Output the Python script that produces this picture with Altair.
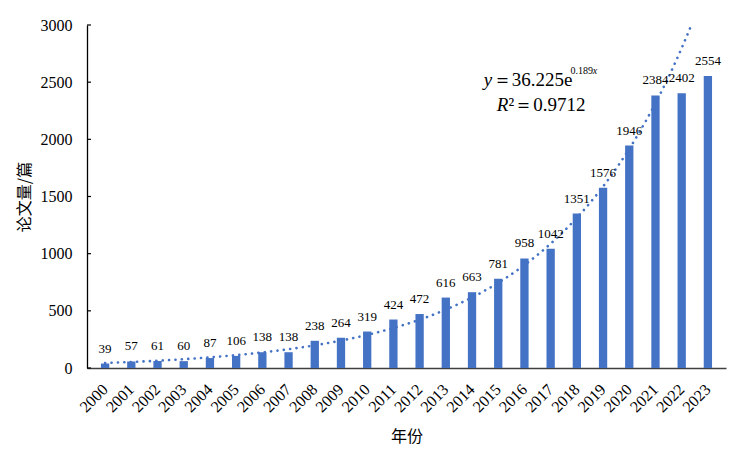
import altair as alt
import pandas as pd

# ---- data ----
years = list(range(2000, 2024))
counts = [39, 57, 61, 60, 87, 106, 138, 138, 238, 264, 319, 424,
          472, 616, 663, 781, 958, 1042, 1351, 1576, 1946, 2384, 2402, 2554]
y_ticks = [0, 500, 1000, 1500, 2000, 2500, 3000]

# trendline parameters as printed on the chart (x = 1 for 2000)
trend_a = 36.225
trend_b = 0.189

# equation annotation pieces (text, year-position, value-position, size, style)
ann_text = ["y", "＝36.225e", "0.189", "x", "R", "²＝0.9712"]
ann_year = [2014.45, 2014.79, 2017.76, 2018.61, 2014.94, 2015.39]
ann_val = [2466, 2466, 2570, 2570, 2248, 2248]
ann_size = [19, 19, 10, 10, 19, 19]
ann_style = ["italic", "normal", "normal", "italic", "italic", "normal"]

BLUE = "#4472C4"
SERIF = "Liberation Serif"
CJK = "Noto Sans CJK SC"

df = pd.DataFrame({"year": years, "count": counts})
ticks_df = pd.DataFrame({"t": y_ticks})
ann_df = pd.DataFrame({"text": ann_text, "year": ann_year, "val": ann_val,
                       "size": ann_size, "style": ann_style})

x_scale = alt.Scale(domain=[1999.5, 2023.5], nice=False, zero=False)
y_scale = alt.Scale(domain=[0, 3000], nice=False)

x_axis = alt.Axis(values=years, format="d", labelAngle=-45, labelFont=SERIF,
                  labelFontSize=16, labelColor="black", ticks=False,
                  labelOverlap=False, labelBound=False, labelPadding=13,
                  labelOffset=-6,
                  domainColor="#404040", domainWidth=1.3,
                  grid=False, title="年份", titleFont=CJK, titleFontSize=16,
                  titleFontWeight="normal", titleColor="black",
                  titleY=68, titleBaseline="middle")
y_axis = alt.Axis(values=y_ticks, format="d", labelFont=SERIF, labelFontSize=16,
                  labelColor="black", ticks=False, labelPadding=15,
                  labelOverlap=False,
                  domainColor="black", domainWidth=1.3, grid=False,
                  title="论文量/篇", titleFont=CJK, titleFontSize=16,
                  titleFontWeight="normal", titleColor="black",
                  titleX=-63, titleY=171.5, titleAngle=-90,
                  titleAlign="center", titleBaseline="middle")


def X(field):
    return alt.X(field, type="quantitative", scale=x_scale, axis=x_axis)


def Y(field):
    return alt.Y(field, type="quantitative", scale=y_scale, axis=y_axis)


bars = alt.Chart(df).mark_bar(size=8.3, color=BLUE).encode(
    x=X("year"), y=Y("count"),
)

labels = alt.Chart(df).mark_text(font=SERIF, fontSize=13, color="black",
                                 baseline="alphabetic", dy=-11).encode(
    x=X("year"), y=Y("count"),
    text=alt.Text("count:Q"),
)

trend = alt.Chart(alt.sequence(start=1, stop=24.01, step=0.05, as_="t")).transform_calculate(
    year="datum.t + 1999",
    fit=f"{trend_a} * exp({trend_b} * datum.t)",
).mark_line(color=BLUE, strokeWidth=2.6, strokeDash=[0.1, 6.3],
            strokeCap="round", clip=True).encode(
    x=X("year"), y=Y("fit"),
)

inner_ticks = alt.Chart(ticks_df).mark_rule(color="black", strokeWidth=1.2).encode(
    x=alt.value(0), x2=alt.value(4),
    y=Y("t"),
)


def ann_layer(style):
    return alt.Chart(ann_df).transform_filter(
        alt.datum.style == style
    ).mark_text(font=SERIF, color="black", align="left",
                baseline="alphabetic", fontStyle=style).encode(
        x=X("year"), y=Y("val"),
        text="text:N",
        size=alt.Size("size:Q", scale=None, legend=None),
    )


chart = alt.layer(bars, trend, labels, inner_ticks,
                  ann_layer("normal"), ann_layer("italic")).properties(
    width=639, height=343,
    background="white",
    autosize=alt.AutoSizeParams(type="none"),
    padding={"left": 79, "top": 17, "right": 6, "bottom": 78},
).configure_view(stroke=None).configure_axisX(labelOverlap=False)

chart.save("out.html", embed_options={"renderer": "svg", "actions": False})
